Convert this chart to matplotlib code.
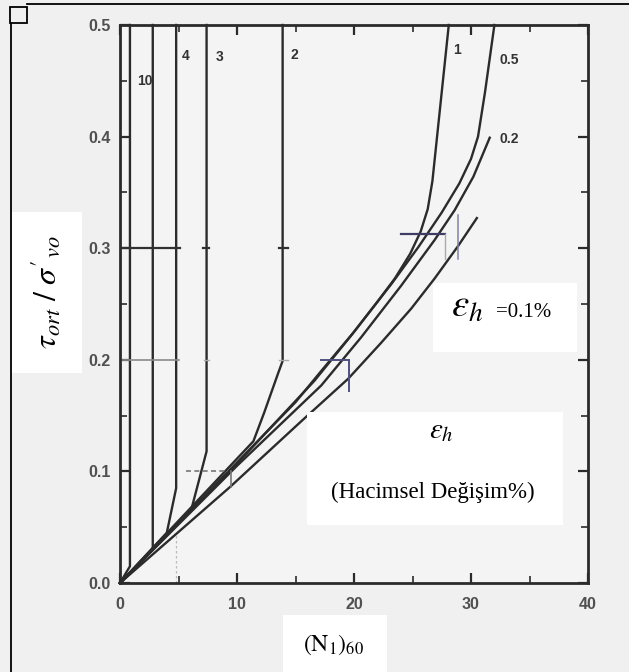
import matplotlib
matplotlib.use('Agg')
import matplotlib.pyplot as plt
from matplotlib.patches import Rectangle
from matplotlib.lines import Line2D
from matplotlib.ticker import FixedLocator, MultipleLocator

plt.rcParams['mathtext.fontset'] = 'stix'

# ---------------- data ----------------
x_ticks = [0, 10, 20, 30, 40]
x_ticklabels = ['0', '10', '20', '30', '40']
y_ticks = [0.0, 0.1, 0.2, 0.3, 0.4, 0.5]
y_ticklabels = ['0.0', '0.1', '0.2', '0.3', '0.4', '0.5']

curve10_x = [0, 0.85, 0.85]
curve10_y = [0, 0.015, 0.5]
curve5_x = [0, 2.8, 2.8]
curve5_y = [0, 0.030, 0.5]
curve4_x = [0, 4.0, 4.8, 4.8]
curve4_y = [0, 0.045, 0.085, 0.5]
curve3_x = [0, 6.1, 7.4, 7.4]
curve3_y = [0, 0.066, 0.118, 0.5]
curve2_x = [0, 11.4, 12.3, 13.5, 13.9, 13.9]
curve2_y = [0, 0.127, 0.152, 0.1875, 0.199, 0.5]
curve1_x = [0, 10, 15, 17.2, 20.0, 22.0, 23.5, 24.8, 25.7, 26.3, 26.7, 27.0, 27.4, 28.1]
curve1_y = [0, 0.108, 0.162, 0.190, 0.225, 0.252, 0.273, 0.295, 0.315, 0.335, 0.360, 0.390, 0.430, 0.5]
curve05_x = [0, 10, 16.6, 19.7, 23.2, 25.5, 27.5, 29.0, 30.0, 30.6, 31.2, 32.0]
curve05_y = [0, 0.107, 0.181, 0.221, 0.268, 0.301, 0.332, 0.358, 0.380, 0.400, 0.440, 0.5]
curve02_x = [0, 10, 17.2, 20.6, 24.0, 26.9, 28.6, 30.2, 31.6]
curve02_y = [0, 0.105, 0.177, 0.220, 0.266, 0.3075, 0.334, 0.364, 0.399]
curve01_x = [0, 9.4, 15.5, 19.5, 22.3, 24.9, 26.9, 28.9, 30.5]
curve01_y = [0, 0.086, 0.145, 0.183, 0.215, 0.246, 0.273, 0.302, 0.327]

curve_labels = ['10', '4', '3', '2', '1', '0.5', '0.2']
label_x = [1.45, 5.3, 8.15, 14.6, 28.5, 32.4, 32.4]
label_y = [0.450, 0.472, 0.471, 0.473, 0.478, 0.469, 0.398]

# ---------------- figure ----------------
W, H = 629, 672
fig = plt.figure(figsize=(W / 100, H / 100), dpi=100, facecolor='#f0f0f0')

def fx(px):
    return px / W

def fy(py):
    return 1 - py / H

ax_l, ax_r, ax_t, ax_b = 120, 588, 25, 583
ax = fig.add_axes([fx(ax_l), fy(ax_b), (ax_r - ax_l) / W, (ax_b - ax_t) / H])
ax.set_facecolor('#f4f4f4')
ax.set_xlim(0, 40)
ax.set_ylim(0, 0.5)

lc = '#2b2b2b'
lw = 1.7
for xs, ys in [(curve10_x, curve10_y), (curve5_x, curve5_y), (curve4_x, curve4_y),
               (curve3_x, curve3_y), (curve2_x, curve2_y), (curve1_x, curve1_y),
               (curve05_x, curve05_y), (curve02_x, curve02_y), (curve01_x, curve01_y)]:
    ax.plot(xs, ys, color=lc, lw=lw, solid_joinstyle='round', clip_on=False)

# reading aids
ax.plot([0, 5.1], [0.30, 0.30], color='#303030', lw=1.6)
ax.plot([7.1, 7.6], [0.30, 0.30], color='#303030', lw=1.6)
ax.plot([13.6, 14.4], [0.30, 0.30], color='#303030', lw=1.6)
ax.plot([0, 5.0], [0.20, 0.20], color='#8a8a8a', lw=1.2)
ax.plot([7.2, 7.6], [0.20, 0.20], color='#aaaaaa', lw=1.0)
ax.plot([13.6, 14.4], [0.20, 0.20], color='#aaaaaa', lw=1.0)
ax.plot([5.6, 9.2], [0.10, 0.10], color='#777777', lw=1.2, ls=(0, (3, 2)))
ax.plot([9.5, 9.5], [0.086, 0.100], color='#777777', lw=1.2)
ax.plot([24.0, 27.8], [0.3125, 0.3125], color='#3c3c66', lw=1.6)
ax.plot([28.9, 28.9], [0.29, 0.33], color='#8080aa', lw=1.1)
ax.plot([27.8, 27.8], [0.29, 0.3125], color='#aaaaaa', lw=1.0)
ax.plot([17.2, 19.6], [0.200, 0.200], color='#505080', lw=1.4)
ax.plot([19.6, 19.6], [0.172, 0.200], color='#505080', lw=1.4)
ax.plot([4.8, 4.8], [0.0, 0.045], color='#bbbbbb', lw=0.9, ls=(0, (2, 2)))

for t, x, y in zip(curve_labels, label_x, label_y):
    ax.text(x, y, t, fontsize=10, fontweight='bold', color='#333333',
            family='Liberation Sans', ha='left', va='center')

for s in ax.spines.values():
    s.set_linewidth(2.0)
    s.set_color('#2b2b2b')

ax.xaxis.set_major_locator(FixedLocator(x_ticks))
ax.yaxis.set_major_locator(FixedLocator(y_ticks))
ax.set_xticklabels(x_ticklabels)
ax.set_yticklabels(y_ticklabels)
ax.xaxis.set_minor_locator(MultipleLocator(5))
ax.yaxis.set_minor_locator(MultipleLocator(0.05))
ax.tick_params(which='both', direction='in', top=True, right=True, color='#2b2b2b')
ax.tick_params(which='major', length=7, width=1.6)
ax.tick_params(which='minor', length=5, width=1.2)
ax.tick_params(axis='x', which='major', pad=10)
ax.tick_params(axis='y', which='major', pad=7)
for lab in ax.get_xticklabels() + ax.get_yticklabels():
    lab.set_fontsize(11.5)
    lab.set_fontweight('bold')
    lab.set_color('#505050')
    lab.set_family('Liberation Sans')

# white label boxes
def box(x0, y0, x1, y1):
    fig.add_artist(Rectangle((fx(x0), fy(y1)), (x1 - x0) / W, (y1 - y0) / H,
                             transform=fig.transFigure, facecolor='white',
                             edgecolor='none', zorder=5))

box(12, 212, 82, 373)
box(433, 283, 577, 352)
box(307, 412, 563, 525)
box(283, 615, 387, 672)

fig.text(fx(47), fy(292), r"$\tau_{ort}\ /\ \sigma'_{vo}$", rotation=90,
         fontsize=23, ha='center', va='center', zorder=6)
fig.text(fx(451), fy(317), r"$\varepsilon_{h}$", fontsize=28, ha='left',
         va='baseline', zorder=6)
fig.text(fx(496), fy(317), "=0.1%", fontsize=15, family='Liberation Serif',
         ha='left', va='baseline', zorder=6)
fig.text(fx(441), fy(430), r"$\varepsilon_{h}$", fontsize=21, ha='center',
         va='center', zorder=6)
fig.text(fx(433), fy(492), "(Hacimsel Değişim%)", fontsize=16.5,
         family='Liberation Serif', ha='center', va='center', zorder=6)
fig.text(fx(334), fy(645), r"$(\mathrm{N}_{1})_{60}$", fontsize=17,
         ha='center', va='center', zorder=6)

# page frame and small square
fig.add_artist(Line2D([fx(27), fx(629)], [fy(4), fy(4)], transform=fig.transFigure,
                      color='black', lw=1.3, zorder=6))
fig.add_artist(Line2D([fx(11), fx(11)], [fy(23), fy(672)], transform=fig.transFigure,
                      color='black', lw=1.3, zorder=6))
fig.add_artist(Rectangle((fx(10), fy(23)), 17 / W, 16 / H, transform=fig.transFigure,
                         facecolor='none', edgecolor='black', lw=1.3, zorder=6))

fig.savefig('out.png', dpi=100, facecolor=fig.get_facecolor())
